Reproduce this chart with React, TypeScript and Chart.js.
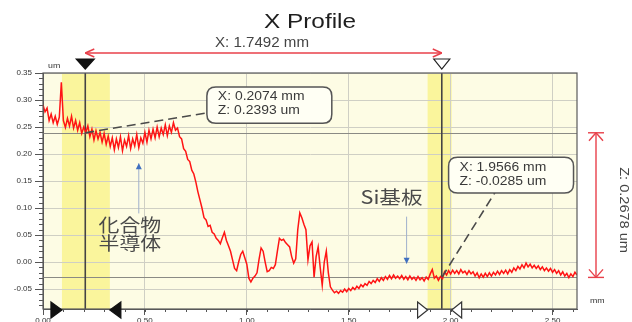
import React, { useEffect, useRef } from "react";
import { Chart, registerables } from "chart.js";

Chart.register(...registerables);

// ---------- data ----------
const TITLE = "X Profile";
const X_UNIT = "mm";
const Z_UNIT = "um";
const X_STEP = 0.01; // sampling step of the profile (mm)
const X_MIN = 0;
const X_MAX = 2.62;
const Z_MIN = -0.087;
const Z_MAX = 0.35;
const X_TICK_STEP = 0.5;
const Z_TICK_STEP = 0.05;
const X_MINOR_STEP = 0.1;
const Z_MINOR_STEP = 0.01;

// height profile (um), one value every X_STEP mm starting at 0.00 mm
const PROFILE_Z = [
  0.291, 0.278, 0.285, 0.262, 0.274, 0.258, 0.270, 0.255, 0.268, 0.333,
  0.262, 0.249, 0.266, 0.252, 0.270, 0.248, 0.262, 0.244, 0.258, 0.238,
  0.250, 0.240, 0.252, 0.232, 0.246, 0.226, 0.243, 0.228, 0.240, 0.222,
  0.238, 0.218, 0.233, 0.214, 0.230, 0.208, 0.228, 0.212, 0.232, 0.206,
  0.226, 0.214, 0.234, 0.210, 0.228, 0.215, 0.236, 0.212, 0.230, 0.220,
  0.240, 0.222, 0.244, 0.228, 0.246, 0.230, 0.250, 0.232, 0.248, 0.236,
  0.254, 0.234, 0.252, 0.240, 0.258, 0.244, 0.248, 0.232, 0.228, 0.210,
  0.205, 0.190, 0.186, 0.170, 0.163, 0.148, 0.130, 0.115, 0.100, 0.082,
  0.078, 0.066, 0.068, 0.055, 0.052, 0.044, 0.040, 0.034, 0.045, 0.055,
  0.040, 0.030, 0.020, 0.004, -0.012, -0.016, 0.000, 0.014, 0.020, 0.008,
  -0.004, -0.030, -0.037, -0.030, -0.026, -0.020, 0.005, 0.026, 0.020, 0.000,
  -0.018, -0.016, -0.010, -0.012, -0.005, 0.020, 0.044, 0.040, 0.042, 0.036,
  0.032, 0.028, 0.010, -0.002, 0.006, 0.060, 0.091, 0.082, 0.070, 0.060,
  0.004, 0.030, 0.037, -0.028, 0.010, 0.028, -0.010, -0.043, 0.000, 0.020,
  -0.020, -0.046, -0.052, -0.057, -0.054, -0.058, -0.053, -0.056, -0.050, -0.055,
  -0.049, -0.053, -0.047, -0.051, -0.045, -0.049, -0.042, -0.046, -0.040, -0.043,
  -0.036, -0.040, -0.034, -0.038, -0.031, -0.036, -0.029, -0.034, -0.027, -0.032,
  -0.025, -0.031, -0.024, -0.030, -0.026, -0.031, -0.025, -0.032, -0.027, -0.033,
  -0.026, -0.032, -0.028, -0.034, -0.027, -0.033, -0.029, -0.035, -0.028, -0.032,
  -0.022, -0.014, -0.030, -0.026, -0.034, -0.027, -0.031, -0.018, -0.024, -0.016,
  -0.022, -0.015, -0.021, -0.016, -0.022, -0.014, -0.020, -0.017, -0.023, -0.016,
  -0.022, -0.018, -0.026, -0.020, -0.029, -0.022, -0.028, -0.021, -0.027, -0.020,
  -0.026, -0.019, -0.024, -0.017, -0.023, -0.016, -0.021, -0.015, -0.022, -0.014,
  -0.019, -0.011, -0.016, -0.008, -0.013, -0.005, -0.011, -0.002, -0.009, -0.004,
  -0.011, -0.006, -0.012, -0.007, -0.014, -0.009, -0.016, -0.011, -0.017, -0.012,
  -0.019, -0.014, -0.021, -0.016, -0.024, -0.018, -0.026, -0.021, -0.029, -0.022,
  -0.027, -0.019, -0.024,
];

// cursors
const CURSOR_1 = { x: 0.2074, z: 0.2393 };
const CURSOR_2 = { x: 1.9566, z: -0.0285 };
const CURSOR_1_LINES = ["X: 0.2074 mm", "Z: 0.2393 um"];
const CURSOR_2_LINES = ["X: 1.9566 mm", "Z: -0.0285 um"];
const DX_LABEL = "X: 1.7492 mm";
const DZ_LABEL = "Z: 0.2678 um";
// averaging bands [from, to] (mm)
const BAND_1 = [0.093, 0.328];
const BAND_2 = [1.887, 2.005];
// callout boxes in data units [x0, x1, zTop, zBottom]
const BOX_1 = [0.804, 1.417, 0.324, 0.257];
const BOX_2 = [1.99, 2.603, 0.194, 0.128];
// text labels
const LABEL_COMPOUND = ["化合物", "半導体"];
const LABEL_COMPOUND_POS = { x: 0.426, z: [0.069, 0.035] };
const ARROW_COMPOUND = { x: 0.47, zFrom: 0.09, zTo: 0.183 };
const LABEL_SI = "Si基板";
const LABEL_SI_POS = { x: 1.71, z: 0.12 };
const ARROW_SI = { x: 1.784, zFrom: 0.084, zTo: -0.003 };

// ---------- drawing helpers ----------
const FONT = "'Liberation Sans', Arial, sans-serif";
const CJK = "'Noto Sans CJK JP', 'Noto Sans CJK SC', sans-serif";

function txt(
  ctx: CanvasRenderingContext2D,
  s: string,
  x: number,
  y: number,
  font: string,
  color: string,
  align: CanvasTextAlign = "left",
  sx = 1.15
) {
  ctx.save();
  ctx.font = font;
  ctx.fillStyle = color;
  ctx.textBaseline = "middle";
  ctx.textAlign = align;
  ctx.translate(x, y);
  ctx.scale(sx, 1);
  ctx.fillText(s, 0, 0);
  ctx.restore();
}

function line(ctx: CanvasRenderingContext2D, x1: number, y1: number, x2: number, y2: number) {
  ctx.beginPath();
  ctx.moveTo(x1, y1);
  ctx.lineTo(x2, y2);
  ctx.stroke();
}

function tri(ctx: CanvasRenderingContext2D, pts: number[][], fill: string | null, stroke: string) {
  ctx.beginPath();
  ctx.moveTo(pts[0][0], pts[0][1]);
  for (let i = 1; i < pts.length; i++) ctx.lineTo(pts[i][0], pts[i][1]);
  ctx.closePath();
  if (fill) {
    ctx.fillStyle = fill;
    ctx.fill();
  }
  ctx.strokeStyle = stroke;
  ctx.lineWidth = 1.2;
  ctx.stroke();
}

function roundRect(ctx: CanvasRenderingContext2D, x: number, y: number, w: number, h: number, r: number) {
  ctx.beginPath();
  ctx.moveTo(x + r, y);
  ctx.lineTo(x + w - r, y);
  ctx.quadraticCurveTo(x + w, y, x + w, y + r);
  ctx.lineTo(x + w, y + h - r);
  ctx.quadraticCurveTo(x + w, y + h, x + w - r, y + h);
  ctx.lineTo(x + r, y + h);
  ctx.quadraticCurveTo(x, y + h, x, y + h - r);
  ctx.lineTo(x, y + r);
  ctx.quadraticCurveTo(x, y, x + r, y);
  ctx.closePath();
}

const profilePlugin = {
  id: "profileDecor",
  beforeDraw(chart: any) {
    const { ctx, chartArea: a, scales } = chart;
    const xs = scales.x;
    ctx.save();
    ctx.fillStyle = "#ffffff";
    ctx.fillRect(0, 0, chart.width, chart.height);
    ctx.fillStyle = "#fdfce4";
    ctx.fillRect(a.left, a.top, a.right - a.left, a.bottom - a.top);
    ctx.fillStyle = "#faf59c";
    for (const b of [BAND_1, BAND_2]) {
      const x0 = xs.getPixelForValue(b[0]);
      const x1 = xs.getPixelForValue(b[1]);
      ctx.fillRect(x0, a.top, x1 - x0, a.bottom - a.top);
    }
    ctx.restore();
  },
  beforeDatasetsDraw(chart: any) {
    const { ctx, chartArea: a, scales } = chart;
    const xs = scales.x;
    const ys = scales.y;
    ctx.save();
    ctx.strokeStyle = "#8a8a84";
    ctx.lineWidth = 1;
    for (const c of [CURSOR_1, CURSOR_2]) {
      const y = Math.round(ys.getPixelForValue(c.z)) + 0.5;
      line(ctx, a.left, y, a.right, y);
    }
    ctx.strokeStyle = "#444444";
    ctx.lineWidth = 1.6;
    for (const c of [CURSOR_1, CURSOR_2]) {
      const x = xs.getPixelForValue(c.x);
      line(ctx, x, a.top, x, a.bottom);
    }
    ctx.restore();
  },
  afterDraw(chart: any) {
    const { ctx, chartArea: a, scales } = chart;
    const xs = scales.x;
    const ys = scales.y;
    const px = (v: number) => xs.getPixelForValue(v);
    const py = (v: number) => ys.getPixelForValue(v);
    ctx.save();

    // minor ticks
    ctx.strokeStyle = "#555";
    ctx.lineWidth = 1;
    for (let i = Math.ceil(Z_MIN / Z_MINOR_STEP); i * Z_MINOR_STEP <= Z_MAX + 1e-9; i++) {
      const y = Math.round(py(i * Z_MINOR_STEP)) + 0.5;
      line(ctx, a.left - 4, y, a.left, y);
    }
    for (let i = 0; i * X_MINOR_STEP <= X_MAX + 1e-9; i++) {
      const x = Math.round(px(i * X_MINOR_STEP)) + 0.5;
      line(ctx, x, a.bottom, x, a.bottom + 3);
    }

    // plot frame
    ctx.strokeStyle = "#5a5a5a";
    ctx.lineWidth = 1.2;
    ctx.strokeRect(a.left, a.top, a.right - a.left, a.bottom - a.top);

    // title
    txt(ctx, TITLE, 310, 22, `20px ${FONT}`, "#1e1e1e", "center", 1.22);

    // top distance arrow
    const c1x = px(CURSOR_1.x);
    const c2x = px(CURSOR_2.x);
    const ay = a.top - 20;
    ctx.strokeStyle = "#e8404a";
    ctx.lineWidth = 1.4;
    line(ctx, c1x, ay, c2x, ay);
    line(ctx, c1x, ay, c1x + 9, ay - 4);
    line(ctx, c1x, ay, c1x + 9, ay + 4);
    line(ctx, c2x, ay, c2x - 9, ay - 4);
    line(ctx, c2x, ay, c2x - 9, ay + 4);
    txt(ctx, DX_LABEL, 262, 43, `14px ${FONT}`, "#454545", "center", 1.08);

    // cursor markers on top
    tri(ctx, [[c1x - 9, a.top - 14], [c1x + 9, a.top - 14], [c1x, a.top - 4]], "#111", "#111");
    tri(ctx, [[c2x - 8, a.top - 14], [c2x + 8, a.top - 14], [c2x, a.top - 4]], "#ffffff", "#222");

    // band markers at bottom
    const yb = a.bottom + 1;
    const b10 = px(BAND_1[0]);
    const b11 = px(BAND_1[1]);
    const b20 = px(BAND_2[0]);
    const b21 = px(BAND_2[1]);
    tri(ctx, [[b10 - 11, yb - 8], [b10, yb], [b10 - 11, yb + 8]], "#111", "#111");
    tri(ctx, [[b11 + 11, yb - 8], [b11, yb], [b11 + 11, yb + 8]], "#111", "#111");
    tri(ctx, [[b20 - 10, yb - 8], [b20, yb], [b20 - 10, yb + 8]], "#ffffff", "#333");
    tri(ctx, [[b21 + 10, yb - 8], [b21, yb], [b21 + 10, yb + 8]], "#ffffff", "#333");

    // right height arrow
    const rx = a.right + 19;
    const y1 = py(CURSOR_1.z);
    const y2 = py(CURSOR_2.z);
    ctx.strokeStyle = "#e8404a";
    ctx.lineWidth = 1.4;
    line(ctx, rx, y1, rx, y2);
    line(ctx, rx - 8, y1, rx + 8, y1);
    line(ctx, rx, y1, rx - 7, y1 + 8);
    line(ctx, rx, y1, rx + 7, y1 + 8);
    line(ctx, rx - 8, y2, rx + 8, y2);
    line(ctx, rx, y2, rx - 7, y2 - 8);
    line(ctx, rx, y2, rx + 7, y2 - 8);
    ctx.save();
    ctx.translate(a.right + 47, (y1 + y2) / 2 + 5);
    ctx.rotate(Math.PI / 2);
    txt(ctx, DZ_LABEL, 0, 0, `13px ${FONT}`, "#454545", "center", 1.12);
    ctx.restore();

    // callout boxes
    const boxes = [
      { b: BOX_1, c: CURSOR_1, lines: CURSOR_1_LINES, anchor: "left" },
      { b: BOX_2, c: CURSOR_2, lines: CURSOR_2_LINES, anchor: "bottom" },
    ];
    for (const bx of boxes) {
      const x0 = px(bx.b[0]);
      const x1 = px(bx.b[1]);
      const t = py(bx.b[2]);
      const bt = py(bx.b[3]);
      const cx = px(bx.c.x);
      const cy = py(bx.c.z);
      ctx.strokeStyle = "#4a4a4a";
      ctx.lineWidth = 1.6;
      ctx.setLineDash([9, 5]);
      if (bx.anchor === "left") line(ctx, cx, cy, x0 - 1, (t + bt) / 2 + 8);
      else line(ctx, cx, cy, x0 + 48, bt - 3);
      ctx.setLineDash([]);
      roundRect(ctx, x0, t, x1 - x0, bt - t, 9);
      ctx.fillStyle = "#fffff4";
      ctx.fill();
      ctx.strokeStyle = "#555";
      ctx.lineWidth = 1.5;
      ctx.stroke();
      txt(ctx, bx.lines[0], x0 + 11, t + 10, `12px ${FONT}`, "#3a3a3a", "left", 1.16);
      txt(ctx, bx.lines[1], x0 + 11, t + 24, `12px ${FONT}`, "#3a3a3a", "left", 1.16);
    }

    // blue pointer arrows
    const arrow = (x: number, zf: number, zt: number) => {
      const xx = px(x);
      const yf = py(zf);
      const yt = py(zt);
      ctx.strokeStyle = "#9fb0cc";
      ctx.lineWidth = 1;
      line(ctx, xx, yf, xx, yt);
      const d = yt < yf ? 1 : -1;
      ctx.beginPath();
      ctx.moveTo(xx, yt);
      ctx.lineTo(xx - 3, yt + d * 6);
      ctx.lineTo(xx + 3, yt + d * 6);
      ctx.closePath();
      ctx.fillStyle = "#3f6fc0";
      ctx.fill();
    };
    arrow(ARROW_COMPOUND.x, ARROW_COMPOUND.zFrom, ARROW_COMPOUND.zTo);
    arrow(ARROW_SI.x, ARROW_SI.zFrom, ARROW_SI.zTo);

    // text labels
    txt(ctx, LABEL_COMPOUND[0], px(LABEL_COMPOUND_POS.x), py(LABEL_COMPOUND_POS.z[0]), `18px ${CJK}`, "#4a4a4a", "center", 1.16);
    txt(ctx, LABEL_COMPOUND[1], px(LABEL_COMPOUND_POS.x), py(LABEL_COMPOUND_POS.z[1]), `18px ${CJK}`, "#4a4a4a", "center", 1.16);
    txt(ctx, LABEL_SI, px(LABEL_SI_POS.x), py(LABEL_SI_POS.z), `18px ${CJK}`, "#4a4a4a", "center", 1.2);

    // unit labels
    txt(ctx, Z_UNIT, a.left + 5, a.top - 7, `8px ${FONT}`, "#333", "left", 1.1);
    txt(ctx, X_UNIT, a.right + 13, a.bottom - 8, `8px ${FONT}`, "#333", "left", 1.1);

    ctx.restore();
  },
};

export default function App() {
  const ref = useRef<HTMLCanvasElement | null>(null);

  useEffect(() => {
    if (!ref.current) return;
    const points = PROFILE_Z.map((z, i) => ({ x: Number((X_MIN + i * X_STEP).toFixed(2)), y: z }));
    const chart = new Chart(ref.current, {
      type: "line",
      data: {
        datasets: [
          {
            label: TITLE,
            data: points,
            borderColor: "#ff1414",
            borderWidth: 1.5,
            pointRadius: 0,
            tension: 0,
          },
        ],
      },
      options: {
        animation: false,
        responsive: false,
        maintainAspectRatio: false,
        layout: { padding: { left: 0, top: 73, right: 55, bottom: 0 } },
        plugins: { legend: { display: false }, title: { display: false }, tooltip: { enabled: false } },
        scales: {
          x: {
            type: "linear",
            min: X_MIN,
            max: X_MAX,
            afterFit: (s: any) => {
              s.height = 13;
            },
            ticks: {
              stepSize: X_TICK_STEP,
              includeBounds: false,
              maxRotation: 0,
              autoSkip: false,
              padding: 1,
              color: "#333",
              font: { size: 8, family: FONT },
              callback: (v: any) => Number(v).toFixed(2),
            },
            grid: { color: "#cfcfc4", tickColor: "#555", tickLength: 6 },
            border: { color: "#555" },
          },
          y: {
            type: "linear",
            min: Z_MIN,
            max: Z_MAX,
            afterFit: (s: any) => {
              s.width = 43;
            },
            ticks: {
              stepSize: Z_TICK_STEP,
              includeBounds: false,
              autoSkip: false,
              padding: 3,
              color: "#333",
              font: { size: 8, family: FONT },
              callback: (v: any) => Number(v).toFixed(2),
            },
            grid: { color: "#cfcfc4", tickColor: "#555", tickLength: 8 },
            border: { color: "#555" },
          },
        },
      } as any,
      plugins: [profilePlugin],
    });
    return () => chart.destroy();
  }, []);

  return (
    <div style={{ position: "absolute", left: 0, top: 0, width: 632, height: 322 }}>
      <canvas ref={ref} width={632} height={322} style={{ width: 632, height: 322, display: "block" }} />
    </div>
  );
}
